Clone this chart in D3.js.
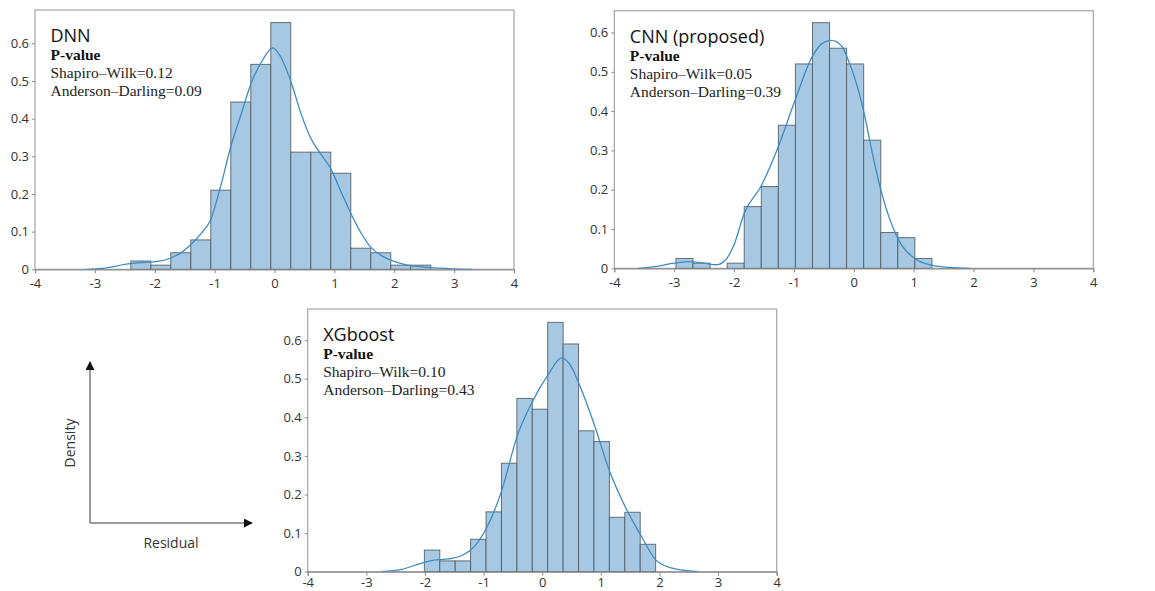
<!DOCTYPE html>
<html>
<head>
<meta charset="utf-8">
<script src="https://cdn.jsdelivr.net/npm/d3@7"></script>
<style>
  body { margin: 0; background: #fff; }
  svg { display: block; }
</style>
</head>
<body>
<svg id="chart" width="1155" height="591"></svg>
<script>
// tick values shared by the three panels
const xTicks = [-4, -3, -2, -1, 0, 1, 2, 3, 4];
const yTicks = [0, 0.1, 0.2, 0.3, 0.4, 0.5, 0.6];

// DNN histogram: first bin edge, bin width, densities
const dnnStart = -2.40;
const dnnWidth = 0.334;
const dnnHeights = [0.022, 0.011, 0.044, 0.078, 0.21, 0.444, 0.544, 0.655, 0.311, 0.311, 0.255, 0.056, 0.044, 0.011, 0.011];
const dnnKde = [[-3.15, 0], [-2.8, 0.004], [-2.5, 0.013], [-2.2, 0.018], [-1.95, 0.021], [-1.73, 0.03], [-1.55, 0.045],
  [-1.4, 0.065], [-1.2, 0.1], [-1.07, 0.13], [-0.9, 0.22], [-0.73, 0.326], [-0.55, 0.415], [-0.4, 0.49], [-0.2, 0.555],
  [-0.03, 0.588], [0.1, 0.565], [0.27, 0.5], [0.45, 0.41], [0.6, 0.35], [0.8, 0.3], [0.93, 0.27], [1.1, 0.21],
  [1.27, 0.15], [1.45, 0.095], [1.6, 0.06], [1.8, 0.035], [1.93, 0.025], [2.2, 0.012], [2.5, 0.006], [2.9, 0.002], [3.3, 0]];

// CNN histogram
const cnnStart = -2.97;
const cnnWidth = 0.285;
const cnnHeights = [0.025, 0.013, 0, 0.013, 0.157, 0.208, 0.364, 0.52, 0.625, 0.56, 0.52, 0.326, 0.091, 0.078, 0.025];
const cnnKde = [[-3.6, 0], [-3.3, 0.005], [-3.0, 0.013], [-2.75, 0.017], [-2.5, 0.013], [-2.3, 0.009], [-2.15, 0.02],
  [-2.0, 0.06], [-1.83, 0.14], [-1.545, 0.21], [-1.26, 0.31], [-0.975, 0.43], [-0.69, 0.54], [-0.5, 0.575],
  [-0.37, 0.58], [-0.2, 0.565], [-0.12, 0.54], [0.165, 0.4], [0.3, 0.3], [0.45, 0.2], [0.735, 0.076],
  [1.02, 0.025], [1.3, 0.008], [1.6, 0.002], [1.94, 0]];

// XGboost histogram
const xgbStart = -2.01;
const xgbWidth = 0.263;
const xgbHeights = [0.056, 0.028, 0.028, 0.084, 0.155, 0.281, 0.449, 0.421, 0.646, 0.59, 0.365, 0.337, 0.141, 0.154, 0.071];
const xgbKde = [[-2.74, 0], [-2.4, 0.006], [-2.1, 0.02], [-1.85, 0.03], [-1.6, 0.033], [-1.4, 0.04], [-1.22, 0.056],
  [-0.96, 0.11], [-0.69, 0.21], [-0.43, 0.35], [-0.17, 0.44], [0.1, 0.51], [0.33, 0.554], [0.5, 0.53], [0.62, 0.49],
  [0.89, 0.38], [1.15, 0.26], [1.41, 0.17], [1.68, 0.095], [1.94, 0.03], [2.2, 0.01], [2.66, 0]];

// annotation text
const titles = ["DNN", "CNN (proposed)", "XGboost"];
const shapiro = ["0.12", "0.05", "0.10"];
const anderson = ["0.09", "0.39", "0.43"];

const panels = [
  { title: titles[0], sw: shapiro[0], ad: anderson[0], start: dnnStart, width: dnnWidth, heights: dnnHeights, kde: dnnKde,
    left: 35, right: 514, top: 10, bottom: 269.3, labelY: 9 },
  { title: titles[1], sw: shapiro[1], ad: anderson[1], start: cnnStart, width: cnnWidth, heights: cnnHeights, kde: cnnKde,
    left: 614.3, right: 1093.3, top: 10.7, bottom: 268.3, labelY: 9 },
  { title: titles[2], sw: shapiro[2], ad: anderson[2], start: xgbStart, width: xgbWidth, heights: xgbHeights, kde: xgbKde,
    left: 307.7, right: 776.7, top: 309, bottom: 571.7, labelY: 6 }
];

// y pixels per 0.1 differ a little between panels in the picture
const yPer01 = [37.67, 39.3, 38.6];

const svg = d3.select("#chart");
const sans = "'Open Sans', sans-serif";
const serif = "'Liberation Serif', serif";

panels.forEach((p, i) => {
  const x = d3.scaleLinear().domain([-4, 4]).range([p.left, p.right]);
  const yMax = (p.bottom - p.top) / yPer01[i] * 0.1;
  const y = d3.scaleLinear().domain([0, yMax]).range([p.bottom, p.top]);
  const g = svg.append("g");

  // frame
  g.append("rect")
    .attr("x", p.left).attr("y", p.top)
    .attr("width", p.right - p.left).attr("height", p.bottom - p.top)
    .attr("fill", "none").attr("stroke", "#a6a6a6").attr("stroke-width", 1.2);

  // bars
  const bins = p.heights.map((h, k) => ({ x0: p.start + k * p.width, x1: p.start + (k + 1) * p.width, h }));
  g.append("g").selectAll("rect")
    .data(bins.filter(d => d.h > 0))
    .join("rect")
    .attr("x", d => x(d.x0))
    .attr("y", d => y(d.h))
    .attr("width", d => x(d.x1) - x(d.x0))
    .attr("height", d => y(0) - y(d.h))
    .attr("fill", "#a6c8e2")
    .attr("stroke", "#4f5a63")
    .attr("stroke-opacity", 0.85)
    .attr("stroke-width", 1);

  // density curve
  g.append("path")
    .datum(p.kde)
    .attr("d", d3.line().x(d => x(d[0])).y(d => y(d[1])).curve(d3.curveMonotoneX))
    .attr("fill", "none")
    .attr("stroke", "#3d8bc4")
    .attr("stroke-width", 1.3);

  // x axis (plain hyphen for negatives, like the original)
  const xAxis = g.append("g")
    .attr("transform", `translate(0,${p.bottom})`)
    .call(d3.axisBottom(x).tickValues(xTicks).tickSize(4).tickFormat(d => String(d)));
  xAxis.select(".domain").attr("stroke", "#8c8c8c").attr("stroke-width", 1.2);
  xAxis.selectAll(".tick line").attr("stroke", "#8c8c8c");
  xAxis.selectAll(".tick text")
    .attr("y", p.labelY).attr("font-family", sans).attr("font-size", 13).attr("fill", "#333");

  // y axis
  const yAxis = g.append("g")
    .attr("transform", `translate(${p.left},0)`)
    .call(d3.axisLeft(y).tickValues(yTicks).tickSize(3)
      .tickFormat(d => d === 0 ? "0" : d3.format(".1f")(d)));
  yAxis.select(".domain").remove();
  yAxis.selectAll(".tick line").attr("stroke", "#8c8c8c");
  yAxis.selectAll(".tick text")
    .attr("x", -6).attr("font-family", sans).attr("font-size", 13).attr("fill", "#333");

  // annotation
  const tx = p.left + 15.5;
  const ty = p.top + 32;
  g.append("text").attr("x", tx).attr("y", ty)
    .attr("font-family", sans).attr("font-size", 18).attr("fill", "#111").text(p.title);
  g.append("text").attr("x", tx).attr("y", ty + 18)
    .attr("font-family", serif).attr("font-size", 15.5).attr("font-weight", "bold").attr("fill", "#111").text("P-value");
  g.append("text").attr("x", tx).attr("y", ty + 36)
    .attr("font-family", serif).attr("font-size", 15.5).attr("fill", "#222").text(`Shapiro–Wilk=${p.sw}`);
  g.append("text").attr("x", tx).attr("y", ty + 54)
    .attr("font-family", serif).attr("font-size", 15.5).attr("fill", "#222").text(`Anderson–Darling=${p.ad}`);
});

// generic axes key at the lower left
const key = svg.append("g");
const defs = svg.append("defs");
defs.append("marker")
  .attr("id", "arrow")
  .attr("viewBox", "0 0 10 10")
  .attr("refX", 9).attr("refY", 5)
  .attr("markerWidth", 6).attr("markerHeight", 6)
  .attr("orient", "auto")
  .append("path").attr("d", "M0,0L10,5L0,10Z").attr("fill", "#111");

key.append("line")
  .attr("x1", 90).attr("y1", 523).attr("x2", 90).attr("y2", 362)
  .attr("stroke", "#7a7a7a").attr("stroke-width", 1.5).attr("marker-end", "url(#arrow)");
key.append("line")
  .attr("x1", 90).attr("y1", 523).attr("x2", 252).attr("y2", 523)
  .attr("stroke", "#7a7a7a").attr("stroke-width", 1.5).attr("marker-end", "url(#arrow)");
key.append("text")
  .attr("transform", "translate(75,443) rotate(-90)")
  .attr("text-anchor", "middle")
  .attr("font-family", sans).attr("font-size", 14).attr("fill", "#333").text("Density");
key.append("text")
  .attr("x", 171).attr("y", 548)
  .attr("text-anchor", "middle")
  .attr("font-family", sans).attr("font-size", 14).attr("fill", "#333").text("Residual");
</script>
</body>
</html>
